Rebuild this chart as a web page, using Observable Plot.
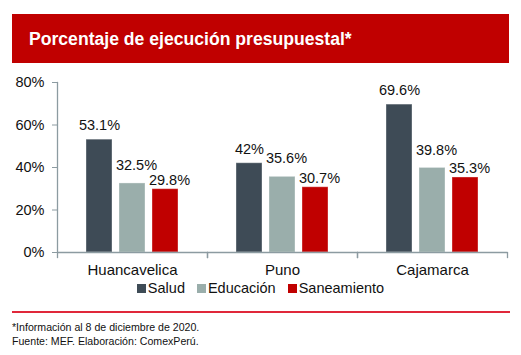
<!DOCTYPE html>
<html>
<head>
<meta charset="utf-8">
<script src="https://cdn.jsdelivr.net/npm/d3@7"></script>
<script src="https://cdn.jsdelivr.net/npm/@observablehq/plot@0.6"></script>
<style>
  html, body { margin: 0; padding: 0; background: #fff; }
  body { width: 521px; height: 355px; position: relative; overflow: hidden; font-family: "Liberation Sans", Arial, sans-serif; }
  #band { position: absolute; left: 12px; top: 14px; width: 497px; height: 49px; background: #c00000; }
  #band span { position: absolute; left: 17px; top: 15px; color: #fff; font-weight: bold; font-size: 17.6px; }
  #chart { position: absolute; left: 0; top: 70px; }
  #legend { position: absolute; left: 0; top: 280px; width: 521px; text-align: center; font-size: 14.5px; color: #111; white-space: nowrap; }
  #legend .item { display: inline-block; margin: 0 6px; }
  #legend .sw { display: inline-block; width: 9px; height: 9px; margin-right: 2px; vertical-align: 0px; }
  #rule { position: absolute; left: 12px; top: 311px; width: 498px; height: 2px; background: #e0283a; }
  #foot { position: absolute; left: 12px; top: 320px; font-size: 10.6px; line-height: 14px; color: #111; }
</style>
</head>
<body>
<div id="band"><span>Porcentaje de ejecución presupuestal*</span></div>
<div id="chart"></div>
<div id="legend"></div>
<div id="rule"></div>
<div id="foot">*Información al 8 de diciembre de 2020.<br>Fuente: MEF. Elaboración: ComexPerú.</div>
<script>
const regions = ["Huancavelica", "Puno", "Cajamarca"];
const sectors = ["Salud", "Educación", "Saneamiento"];
const salud = [53.1, 42, 69.6];
const educacion = [32.5, 35.6, 39.8];
const saneamiento = [29.8, 30.7, 35.3];
const labels = [
  ["53.1%", "32.5%", "29.8%"],
  ["42%", "35.6%", "30.7%"],
  ["69.6%", "39.8%", "35.3%"]
];
const colors = ["#3e4b56", "#9aaeab", "#c00000"];
const yTicks = [0, 20, 40, 60, 80];

const series = [salud, educacion, saneamiento];
const data = [];
regions.forEach((r, i) => sectors.forEach((s, j) => {
  data.push({region: r, sector: s, value: series[j][i], label: labels[i][j]});
}));

const axisColor = "#8c9ba1";
const labelStyle = { x: "sector", y: "value", text: "label", fill: "#111", fontSize: 14.5 };

const plot = Plot.plot({
  width: 521,
  height: 210,
  marginLeft: 57,
  marginRight: 14,
  marginTop: 12,
  marginBottom: 28,
  style: { fontFamily: "Liberation Sans, Arial, sans-serif", fontSize: "14.5px", color: "#111", background: "transparent" },
  fx: { domain: regions, padding: 0, label: null, axis: null },
  x: { domain: sectors, paddingInner: 0.2, paddingOuter: 0.87, axis: null },
  y: { domain: [0, 80], axis: null },
  color: { domain: sectors, range: colors },
  facet: { data: data, x: "region" },
  marks: [
    Plot.barY(data, { x: "sector", y: "value", fill: "sector", stroke: "#ffffff", strokeOpacity: 0.35, strokeWidth: 1 }),
    Plot.text(data, { ...labelStyle, filter: d => d.sector === "Salud", dy: -14, dx: 0 }),
    Plot.text(data, { ...labelStyle, filter: d => d.sector === "Educación", dy: -18, dx: 4 }),
    Plot.text(data, { ...labelStyle, filter: d => d.sector === "Saneamiento", dy: -9, dx: 4 }),
    Plot.ruleY([0], { stroke: axisColor, strokeWidth: 1.3 }),
    Plot.frame({ anchor: "left", stroke: axisColor, insetTop: 170, insetBottom: -5, strokeWidth: 1.3 }),
    Plot.frame({ anchor: "right", stroke: axisColor, insetTop: 170, insetBottom: -5, strokeWidth: 1.3 }),
    Plot.text(data, { filter: d => d.sector === "Educación", x: "sector", text: "region", frameAnchor: "bottom", dy: 22, fill: "#111", fontSize: 15 })
  ]
});

const yAxisPlot = Plot.plot({
  width: 521,
  height: 210,
  marginLeft: 57,
  marginRight: 14,
  marginTop: 12,
  marginBottom: 28,
  style: { fontFamily: "Liberation Sans, Arial, sans-serif", fontSize: "14.5px", color: "#111", background: "transparent" },
  x: { axis: null },
  y: { domain: [0, 80], axis: null },
  marks: [
    Plot.axisY({ ticks: yTicks, tickFormat: d => d + "%", tickSize: 5, tickPadding: 8, stroke: axisColor, fill: "#111", fontSize: 14.5, label: null }),
    Plot.frame({ anchor: "left", stroke: axisColor, strokeWidth: 1.3 })
  ]
});

const holder = document.getElementById("chart");
holder.style.width = "521px";
holder.style.height = "210px";
plot.style.position = "absolute";
plot.style.left = "0";
plot.style.top = "0";
yAxisPlot.style.position = "absolute";
yAxisPlot.style.left = "0";
yAxisPlot.style.top = "0";
holder.appendChild(plot);
holder.appendChild(yAxisPlot);

const legend = document.getElementById("legend");
sectors.forEach((s, j) => {
  const it = document.createElement("span");
  it.className = "item";
  it.innerHTML = `<span class="sw" style="background:${colors[j]}"></span>${s}`;
  legend.appendChild(it);
});
</script>
</body>
</html>
